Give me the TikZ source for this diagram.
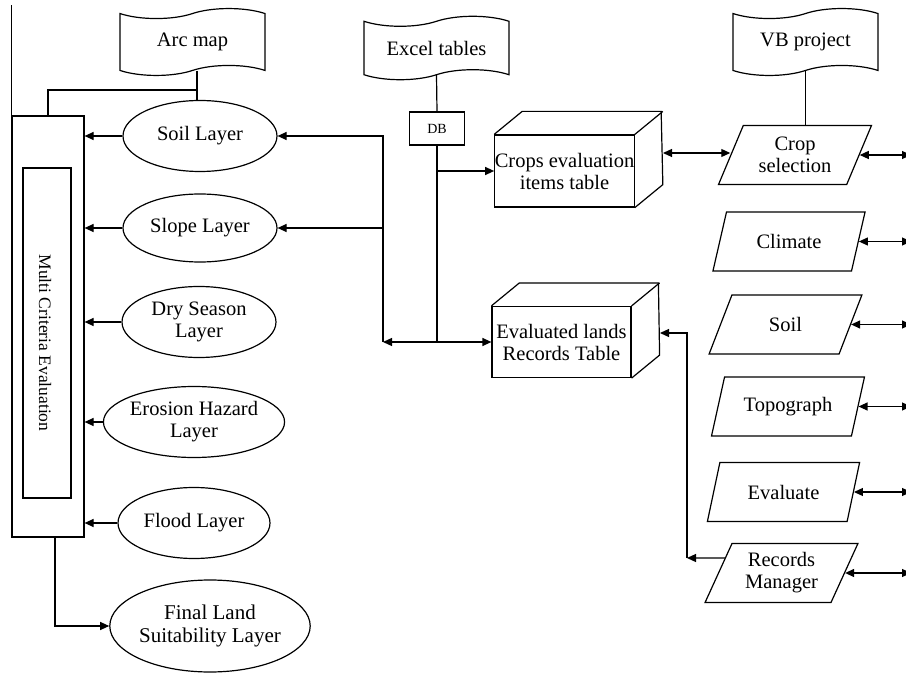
\documentclass[tikz,border=0pt]{standalone}
\usepackage{fontspec}
\setmainfont{Liberation Serif}
\usepackage{graphicx}
\usetikzlibrary{shapes.geometric, shapes.symbols, arrows.meta, calc, positioning}

\begin{document}
\begin{tikzpicture}[x=1pt, y=1pt, line width=1.2pt, >={Triangle[length=9pt,width=8pt]}]
        \tikzstyle{layer}=[ellipse, draw, align=center, inner sep=0pt, minimum width=154pt, minimum height=71pt, font=\fontsize{20.5}{22}\selectfont]
        \tikzstyle{source}=[tape, draw, tape bend top=in and out, tape bend bottom=in and out, tape bend height=10pt, inner xsep=10pt, inner ysep=14.5pt, minimum width=145pt, font=\fontsize{20.5}{22}\selectfont]
        \tikzstyle{form}=[trapezium, draw, trapezium left angle=64, trapezium right angle=116, trapezium stretches=true, align=center, inner sep=0pt, minimum width=153pt, minimum height=59pt, font=\fontsize{20.5}{22}\selectfont]
        \tikzstyle{table}=[rectangle, draw, align=center, inner sep=0pt, minimum width=139pt, minimum height=71pt, font=\fontsize{20.5}{22}\selectfont]

        \useasboundingbox (0,0) rectangle (906,-674);

        % Sources
        \node[source] (arc) at (192.5,-42) {Arc map};
        \node[source] (excel) at (436.5,-48) {Excel tables};
        \node[source] (vb) at (805.5,-42) {VB project};
        \node[draw, minimum width=55pt, minimum height=33pt, font=\fontsize{14}{16}\selectfont] (db) at (437,-128.5) {DB};

        % Multi criteria box
        \node[draw, minimum width=72pt, minimum height=421pt] (mce) at (48,-326.5) {};
        \node[draw, minimum width=48pt, minimum height=330pt] (mcein) at (47,-333) {};
        \node[rotate=-90, font=\fontsize{17.5}{19}\selectfont] (mcetext) at (45,-343) {Multi Criteria Evaluation};

        % Layers
        \node[layer] (soil) at (200,-136) {Soil Layer};
        \node[layer, minimum height=68pt] (slope) at (200,-228) {Slope Layer};
        \node[layer] (dry) at (199,-322) {Dry Season\\Layer};
        \node[layer, minimum width=152pt] (erosion) at (194,-422) {Erosion Hazard\\Layer};
        \node[layer, minimum width=152pt] (flood) at (194,-523) {Flood Layer};
        \node[layer, minimum width=180pt, minimum height=92pt, font=\fontsize{21}{23}\selectfont] (final) at (210,-626) {Final Land\\Suitability Layer};

        % Tables
        \node[table, minimum height=72pt] (cet) at (564.5,-171) {Crops evaluation\\items table};
        \node[table] (evl) at (561.5,-342) {Evaluated lands\\Records Table};
        \foreach \t in {cet, evl} {
            \draw (\t.north west) -- ++(28,23) -- ++(139,0) -- ($(\t.south east)+(28,23)$) -- (\t.south east);
            \draw (\t.north east) -- ++(28,23);
        }

        % Forms
        \node[form] (sel) at (795,-155) {Crop\\selection};
        \node[form] (clim) at (789,-241.5) {Climate};
        \node[form] (psoil) at (785.5,-324.5) {Soil};
        \node[form] (topo) at (788,-406.5) {Topograph};
        \node[form] (eval) at (783.5,-492) {Evaluate};
        \node[form] (rec) at (781.5,-573) {Records\\Manager};

        % Helper coordinates
        \coordinate (arcjoin) at (197,-90);
        \coordinate (lbus) at (383,-342);
        \coordinate (rbus) at (687,-558);
        \coordinate (cetside) at (663,-153);
        \coordinate (evlside) at (660,-333);
        \coordinate (edge) at (911,0);

        % Arc map to layers and box
        \draw (arcjoin |- arc.south) -- (arcjoin |- soil.north);
        \draw (mce.north) |- (arcjoin);
        \draw (mce.north west) -- (mce.north west |- 0,-5);

        \foreach \n in {soil, slope, dry, erosion, flood}
            \draw[->] (\n.west) -- (\n.west -| mce.east);
        \draw[->] ($(mce.south)+(7,0)$) |- (final.west);

        % Excel tables and DB
        \draw (excel.south) -- (db.north);
        \draw (db.south) -- (db.south |- lbus);
        \draw[->] (db.south |- cet.west) -- (cet.west);
        \draw[<->] (lbus) -- (evl.west);
        \draw[->] (lbus) |- (soil.east);
        \draw[->] (lbus |- slope.east) -- (slope.east);

        % VB project and forms
        \draw (vb.south) -- (vb.south |- sel.north);
        \draw[<->] (cetside) -- (cetside -| sel.west);
        \foreach \n in {sel, clim, psoil, topo, eval, rec}
            \draw[<->] (\n.east) -- (\n.east -| edge);
        \draw[->] ($(rec.west)+(7,15)$) -- (rbus);
        \draw[->] (rbus) |- (evlside);
\end{tikzpicture}
\end{document}
